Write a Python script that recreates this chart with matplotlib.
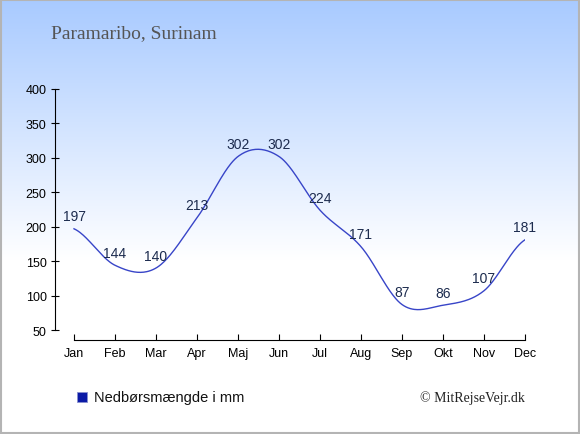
import numpy as np
import matplotlib
matplotlib.use('Agg')
import matplotlib.pyplot as plt
from matplotlib.patches import Rectangle

# Daten
maaneder = ['Jan', 'Feb', 'Mar', 'Apr', 'Maj', 'Jun', 'Jul', 'Aug', 'Sep', 'Okt', 'Nov', 'Dec']
nedboer = [197, 144, 140, 213, 302, 302, 224, 171, 87, 86, 107, 181]
titel = 'Paramaribo, Surinam'
legende = 'Nedbørsmængde i mm'
kilde = '© MitRejseVejr.dk'

linjefarve = '#3845c8'
tekstfarve = '#1c2b4e'


def catmull_rom(x, y, n=40):
    # glatte kurve gennem punkterne (kardinal spline)
    x = np.asarray(x, float)
    y = np.asarray(y, float)
    m = np.zeros_like(y)
    m[1:-1] = (y[2:] - y[:-2]) / 2
    m[0] = (y[1] - y[0]) / 2
    m[-1] = (y[-1] - y[-2]) / 2
    xs, ys = [], []
    for i in range(len(x) - 1):
        t = np.linspace(0, 1, n, endpoint=False)
        h00 = 2 * t**3 - 3 * t**2 + 1
        h10 = t**3 - 2 * t**2 + t
        h01 = -2 * t**3 + 3 * t**2
        h11 = t**3 - t**2
        xs.append(x[i] + t * (x[i + 1] - x[i]))
        ys.append(h00 * y[i] + h10 * m[i] + h01 * y[i + 1] + h11 * m[i + 1])
    xs.append([x[-1]])
    ys.append([y[-1]])
    return np.concatenate(xs), np.concatenate(ys)


W, H = 580, 435
fig = plt.figure(figsize=(W / 100, H / 100), dpi=100)

# baggrund med farveovergang
bg = fig.add_axes([0, 0, 1, 1], zorder=-1)
rows = np.linspace(0, 1, H)
frac = np.clip(rows / 0.6, 0, 1)
top = np.array([168, 202, 255]) / 255
col = top[None, :] * (1 - frac[:, None]) + frac[:, None]
grad = np.repeat(col[:, None, :], 2, axis=1)
bg.imshow(grad, aspect='auto', extent=[0, 1, 0, 1], origin='upper')
bg.set_xlim(0, 1)
bg.set_ylim(0, 1)
bg.axis('off')
bg.add_patch(Rectangle((0.001, 0.002), 0.997, 0.996, fill=False,
                       edgecolor='#b4b4b4', linewidth=1.5, transform=bg.transAxes))

# hovedakse
left, right, bottom, topp = 55, 525, 341, 90
ax = fig.add_axes([left / W, (H - bottom) / H, (right - left) / W, (bottom - topp) / H])
ax.patch.set_alpha(0)
x = np.arange(len(maaneder))
ax.set_xlim(-(74 - 55) / 41, 11)
ax.set_ylim(50 - 10 / 0.6886, 400)

xs, ys = catmull_rom(x, nedboer)
ax.plot(xs, ys, color=linjefarve, linewidth=1.0)

for xi, yi in zip(x, nedboer):
    ax.annotate(str(yi), (xi, yi), xytext=(0, 6), textcoords='offset points',
                ha='center', va='baseline', fontsize=10, color=tekstfarve,
                family='Liberation Sans')

for s in ['top', 'right']:
    ax.spines[s].set_visible(False)
ax.spines['left'].set_bounds(50, 400)
ax.spines['bottom'].set_bounds(0, 11)
ax.set_yticks(np.arange(50, 401, 50))
ax.set_xticks(x)
ax.set_xticklabels(maaneder)
ax.tick_params(axis='y', direction='inout', length=6, pad=3, labelsize=9)
ax.tick_params(axis='x', direction='in', length=4, pad=5, labelsize=9)
for lab in ax.get_xticklabels() + ax.get_yticklabels():
    lab.set_family('Liberation Sans')

# tekster
fig.text(51 / W, (H - 38) / H, titel, family='Liberation Serif', fontsize=14,
         color='#555555', ha='left', va='baseline')
fig.patches.append(Rectangle((77 / W, (H - 403) / H), 10 / W, 10 / H,
                             facecolor='#0b1aa6', edgecolor='#8890d0', linewidth=0.6,
                             transform=fig.transFigure, figure=fig))
fig.text(94 / W, (H - 402.5) / H, legende, family='Liberation Sans', fontsize=10.5,
         color='#111111', ha='left', va='baseline')
fig.text(525 / W, (H - 402) / H, kilde, family='Liberation Serif', fontsize=10,
         color='#222222', ha='right', va='baseline')

fig.savefig('out.png', dpi=100)
